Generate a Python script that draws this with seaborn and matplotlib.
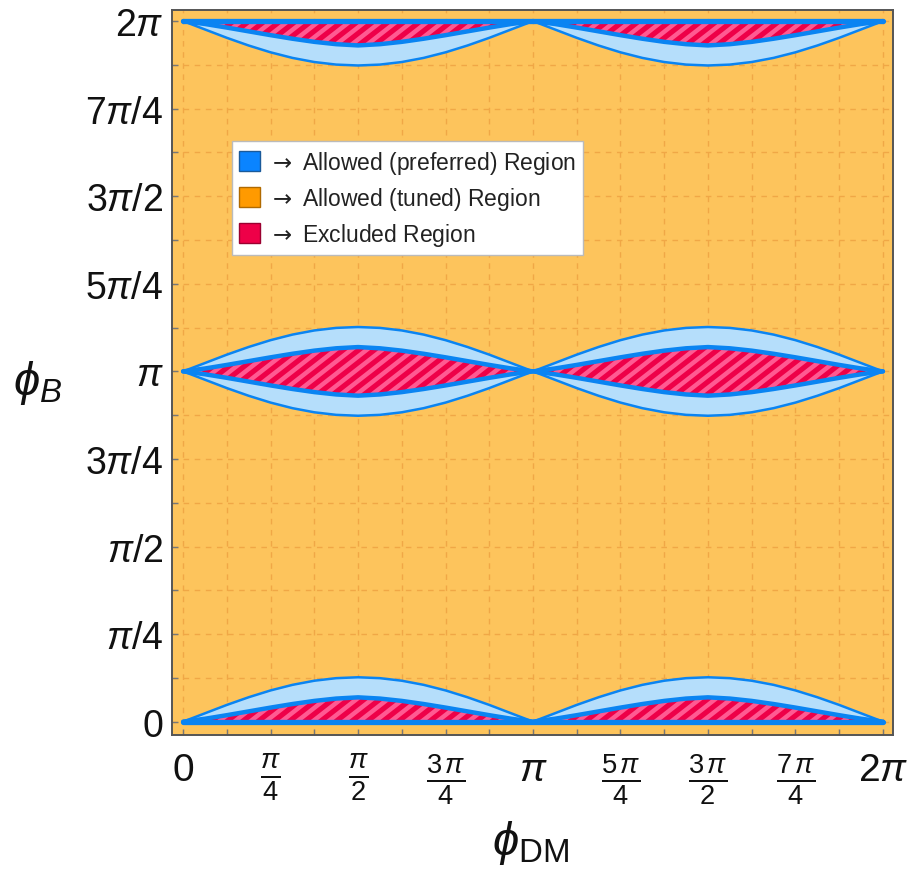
import numpy as np
import pandas as pd
import matplotlib
matplotlib.use("Agg")
import matplotlib.pyplot as plt
import seaborn as sns
from matplotlib.patches import Patch
from matplotlib.collections import LineCollection

PI = np.pi

# ---- data -----------------------------------------------------------------
# sample positions along one hump, in units of pi
hump_x = [0.0, 0.0625, 0.125, 0.1875, 0.25, 0.3125, 0.375, 0.4375, 0.5,
          0.5625, 0.625, 0.6875, 0.75, 0.8125, 0.875, 0.9375, 1.0]
# half-width of the outer (light blue) boundary, radians
outer_h = [0.000, 0.075, 0.150, 0.219, 0.280, 0.330, 0.367, 0.390, 0.398,
           0.390, 0.367, 0.330, 0.280, 0.219, 0.150, 0.075, 0.000]
# half-width of the inner (dark blue / excluded) boundary, radians
inner_h = [0.000, 0.026, 0.058, 0.092, 0.126, 0.158, 0.186, 0.207, 0.218,
           0.207, 0.186, 0.158, 0.126, 0.092, 0.058, 0.026, 0.000]

band_centre = [0.0, PI, 2 * PI]
band_up = [True, True, False]
band_down = [False, True, True]

xtick_labels = ["$0$", r"$\frac{\pi}{4}$", r"$\frac{\pi}{2}$", r"$\frac{3\,\pi}{4}$",
                r"$\pi$", r"$\frac{5\,\pi}{4}$", r"$\frac{3\,\pi}{2}$",
                r"$\frac{7\,\pi}{4}$", r"$2\pi$"]
ytick_labels = ["$0$", r"$\pi/4$", r"$\pi/2$", r"$3\pi/4$", r"$\pi$",
                r"$5\pi/4$", r"$3\pi/2$", r"$7\pi/4$", r"$2\pi$"]
legend_labels = [r"$\mathsf{\rightarrow}$ Allowed (preferred) Region",
                 r"$\mathsf{\rightarrow}$ Allowed (tuned) Region",
                 r"$\mathsf{\rightarrow}$ Excluded Region"]

# ---- colours ----------------------------------------------------------------
C_BG = "#FDC45C"
C_GRID = "#F0A746"
C_LIGHT = "#B5DEFB"
C_BLUE = "#0A84F2"
C_RED = "#EE0048"
C_PINK = "#FF5A92"

sns.set_theme(style="ticks")
plt.rcParams["font.family"] = ["Liberation Sans", "DejaVu Sans"]
plt.rcParams["mathtext.fontset"] = "custom"
plt.rcParams["mathtext.rm"] = "Liberation Sans"
plt.rcParams["mathtext.it"] = "Liberation Sans:italic"
plt.rcParams["mathtext.bf"] = "Liberation Sans:bold"
plt.rcParams["mathtext.sf"] = "DejaVu Sans"

x_full = np.array(hump_x + [1.0 + v for v in hump_x[1:]]) * PI
out_full = np.array(outer_h + outer_h[1:])
in_full = np.array(inner_h + inner_h[1:])

fig = plt.figure(figsize=(9.08, 8.70), dpi=100)
ax = fig.add_axes([0.1894, 0.154, 0.794, 0.8334])
ax.set_facecolor(C_BG)

ax.set_xlim(-0.10, 2 * PI + 0.09)
ax.set_ylim(-0.12, 2 * PI + 0.10)


def stripes(poly):
    path = poly.get_paths()[0]
    slope = np.tan(np.radians(38))
    segs = []
    for c in np.arange(-12, 8, 0.14):
        segs.append([(c - 1, -slope), (c + 12, 12 * slope)])
    lc = LineCollection(segs, colors=C_PINK, linewidths=3.2, zorder=2.1)
    lc.set_clip_path(path, ax.transData)
    ax.add_collection(lc)


for c, up, down in zip(band_centre, band_up, band_down):
    lo_o = c - out_full if down else np.full_like(x_full, c)
    hi_o = c + out_full if up else np.full_like(x_full, c)
    lo_i = c - in_full if down else np.full_like(x_full, c)
    hi_i = c + in_full if up else np.full_like(x_full, c)
    ax.fill_between(x_full, lo_o, hi_o, color=C_LIGHT, lw=0, zorder=1.5)
    red = ax.fill_between(x_full, lo_i, hi_i, facecolor=C_RED, lw=0, zorder=2)
    stripes(red)
    if up:
        sns.lineplot(x=x_full, y=c + out_full, ax=ax, color=C_BLUE, lw=1.8,
                     estimator=None, sort=False, legend=False, zorder=3)
        sns.lineplot(x=x_full, y=c + in_full, ax=ax, color=C_BLUE, lw=3.2,
                     estimator=None, sort=False, legend=False, zorder=3.2)
    if down:
        sns.lineplot(x=x_full, y=c - out_full, ax=ax, color=C_BLUE, lw=1.8,
                     estimator=None, sort=False, legend=False, zorder=3)
        sns.lineplot(x=x_full, y=c - in_full, ax=ax, color=C_BLUE, lw=3.2,
                     estimator=None, sort=False, legend=False, zorder=3.2)
    if up != down:
        sns.lineplot(x=[0.0, 2 * PI], y=[c, c], ax=ax, color=C_BLUE, lw=3.8,
                     estimator=None, sort=False, legend=False, zorder=3.3)

# ---- axes, ticks, grid ------------------------------------------------------
major = np.arange(9) * PI / 4
minor = np.arange(17) * PI / 8
ax.set_xticks(major)
ax.set_xticks(minor, minor=True)
ax.set_yticks(major)
ax.set_yticks(minor, minor=True)
ax.set_xticklabels(xtick_labels, fontsize=28)
ax.set_yticklabels(ytick_labels, fontsize=27)
ax.tick_params(axis="both", which="both", direction="in", length=4, width=1,
               color="#777777", labelcolor="#111111")
ax.tick_params(axis="x", which="major", pad=12)
ax.tick_params(axis="y", which="major", pad=6)
ax.grid(which="both", color=C_GRID, lw=1.0, ls=(0, (4, 4)))
ax.set_axisbelow(True)
for s in ax.spines.values():
    s.set_color("#555555")
    s.set_linewidth(1.4)

ax.set_xlabel(r"$\phi_{\mathrm{DM}}$", fontsize=34, color="#111111",
              va="center")
ax.set_ylabel(r"$\phi_B$", fontsize=34, rotation=0, color="#111111",
              ha="center", va="center")
ax.xaxis.set_label_coords(0.497, -0.148)
ax.yaxis.set_label_coords(-0.186, 0.487)

handles = [Patch(facecolor="#0A84FF", edgecolor="#1A5A9A", lw=1.0),
           Patch(facecolor="#FF9A00", edgecolor="#B06A00", lw=1.0),
           Patch(facecolor="#EE0048", edgecolor="#9A0030", lw=1.0)]
leg = ax.legend(handles, legend_labels, loc="upper left",
                bbox_to_anchor=(0.083, 0.819), borderaxespad=0,
                fontsize=16.5, handlelength=0.9, handleheight=0.95,
                handletextpad=0.4, labelspacing=0.4, borderpad=0.32,
                frameon=True, fancybox=False, framealpha=1,
                edgecolor="#BBBBBB", facecolor="white")
leg.get_frame().set_linewidth(1.0)
for t in leg.get_texts():
    t.set_color("#222222")
leg.set_zorder(10)

fig.savefig("out.png", dpi=100)
